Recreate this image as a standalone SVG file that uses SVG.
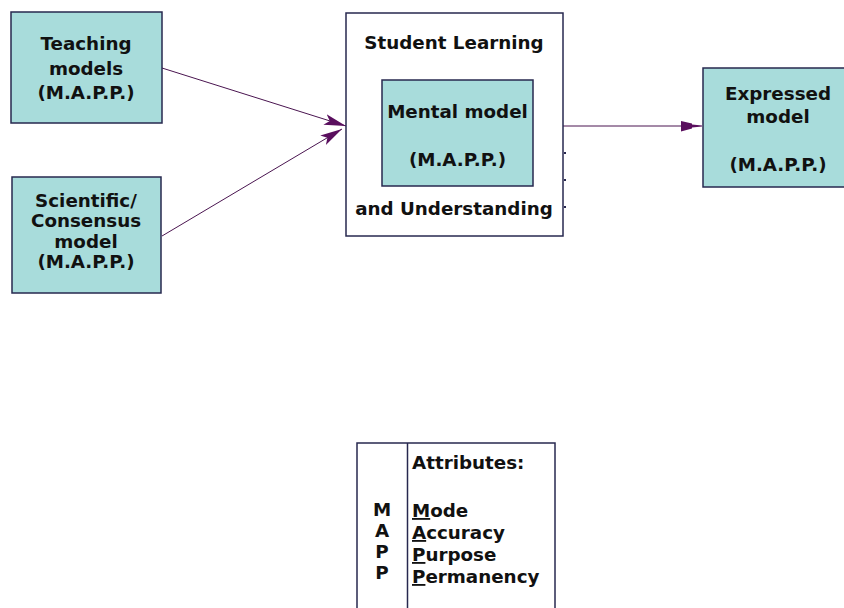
<svg xmlns="http://www.w3.org/2000/svg" width="844" height="608" viewBox="0 0 844 608">
<defs>
<style>
.box{fill:#a8dcdb;stroke:#27284f;stroke-width:1.5}
.frame{fill:#ffffff;stroke:#27284f;stroke-width:1.5}
.t{font-family:"DejaVu Sans",Verdana,sans-serif;font-weight:bold;font-size:18.3px;fill:#111111}
.c{text-anchor:middle}
.link{stroke:#4a1550;stroke-width:1;fill:none}
.head{fill:#5a0f5e}
</style>
<marker id="arr" markerWidth="24" markerHeight="14" refX="22" refY="7" orient="auto" markerUnits="userSpaceOnUse">
<path d="M0,1.5 L22,7 L0,12.5 L5,7 Z" class="head"/>
</marker>
</defs>
<rect width="844" height="608" fill="#ffffff"/>

<g id="connectors">
<line class="link" x1="162" y1="68" x2="346" y2="126" marker-end="url(#arr)"/>
<line class="link" x1="162" y1="236" x2="342" y2="129" marker-end="url(#arr)"/>
<line class="link" x1="563" y1="126" x2="686" y2="126"/>
<path class="head" d="M681,121 L692,123.5 L692,124.5 L702,125.5 L702,126.5 L692,127.5 L692,128.5 L681,131.5 Z"/>
</g>

<g id="teaching">
<rect class="box" x="11" y="12" width="151" height="111"/>
<text class="t c" x="86" y="50">Teaching</text>
<text class="t c" x="86" y="75">models</text>
<text class="t c" x="86" y="99">(M.A.P.P.)</text>
</g>

<g id="scientific">
<rect class="box" x="12" y="177" width="149" height="116"/>
<text class="t c" x="86" y="207">Scientific/</text>
<text class="t c" x="86" y="227">Consensus</text>
<text class="t c" x="86" y="248">model</text>
<text class="t c" x="86" y="268">(M.A.P.P.)</text>
</g>

<g id="student">
<rect class="frame" x="346" y="13" width="217" height="223"/>
<text class="t c" x="454" y="49">Student Learning</text>
<text class="t c" x="454" y="215">and Understanding</text>
<path d="M564,153h2M564,180h2M564,207h2" stroke="#27284f" stroke-width="2"/>
</g>

<g id="mental">
<rect class="box" x="382" y="80" width="151" height="106"/>
<text class="t c" x="457.5" y="118">Mental model</text>
<text class="t c" x="457.5" y="166">(M.A.P.P.)</text>
</g>

<g id="expressed">
<rect class="box" x="703" y="68" width="152" height="119"/>
<text class="t c" x="778" y="100">Expressed</text>
<text class="t c" x="778" y="123">model</text>
<text class="t c" x="778" y="171">(M.A.P.P.)</text>
</g>

<g id="mapp">
<rect class="frame" x="357" y="443" width="198" height="180"/>
<line x1="407.5" y1="443" x2="407.5" y2="608" stroke="#27284f" stroke-width="1.5"/>
<text class="t c" x="382" y="516">M</text>
<text class="t c" x="382" y="537">A</text>
<text class="t c" x="382" y="558">P</text>
<text class="t c" x="382" y="579">P</text>
<text class="t" x="412" y="469">Attributes:</text>
<text class="t" x="412" y="517"><tspan text-decoration="underline">M</tspan>ode</text>
<text class="t" x="412" y="539"><tspan text-decoration="underline">A</tspan>ccuracy</text>
<text class="t" x="412" y="561"><tspan text-decoration="underline">P</tspan>urpose</text>
<text class="t" x="412" y="583"><tspan text-decoration="underline">P</tspan>ermanency</text>
</g>
</svg>
